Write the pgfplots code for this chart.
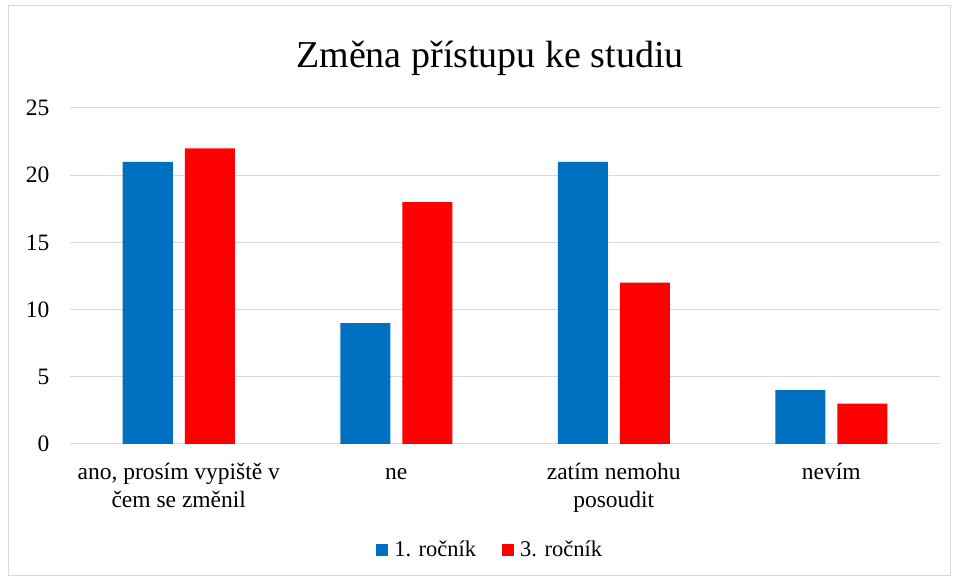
\documentclass[border=0pt]{standalone}
\usepackage{pgfplots}
\pgfplotsset{compat=1.18}
\usepackage{fontspec}
\setmainfont{Liberation Serif}
\definecolor{cblue}{HTML}{0070C0}
\definecolor{cred}{HTML}{FF0000}
\definecolor{gridc}{HTML}{D9D9D9}
\begin{document}
\begin{tikzpicture}[x=1bp,y=1bp]
\path[use as bounding box] (-70,-136) rectangle (886,444);
\draw[gridc] (-62,-131) rectangle (880,439);
\begin{axis}[
  at={(0,0)}, anchor=south west,
  scale only axis, width=870bp, height=336bp,
  ybar=12bp, bar width=50bp,
  xmin=-0.5, xmax=3.5, ymin=0, ymax=25,
  ytick={0,5,...,25},
  xtick={0,1,2,3},
  xticklabels={{\strut ano, prosím vypiště v\\\strut čem se změnil},{\strut ne},{\strut zatím nemohu\\\strut posoudit},{\strut nevím}},
  xticklabel style={align=center, anchor=north, inner sep=0pt, font=\fontsize{23.5bp}{28bp}\selectfont, yshift=-16bp},
  yticklabel style={font=\fontsize{23.5bp}{27bp}\selectfont, xshift=-17bp},
  /pgf/number format/assume math mode=true,
  major tick length=0pt,
  axis x line*=bottom, axis y line*=left,
  y axis line style={draw=none},
  x axis line style={gridc, line width=1pt},
  ymajorgrids, grid style={gridc, line width=1pt},
  legend style={draw=none, at={(0.483,-0.315)}, anchor=center, legend columns=2,
    font=\fontsize{22.5bp}{26bp}\selectfont,
    /tikz/every odd column/.append style={column sep=4bp},
    /tikz/every even column/.append style={column sep=24bp}},
  legend image code/.code={\fill[#1] (0bp,-6bp) rectangle (12bp,6bp);},
]
\addplot[fill=cblue, draw=none] coordinates {(0,21) (1,9) (2,21) (3,4)};
\addplot[fill=cred, draw=none] coordinates {(0,22) (1,18) (2,12) (3,3)};
\legend{1. ročník, 3. ročník}
\end{axis}
\node[anchor=base, font=\fontsize{38bp}{40bp}\selectfont] at (420,376) {Změna přístupu ke studiu};
\end{tikzpicture}
\end{document}
